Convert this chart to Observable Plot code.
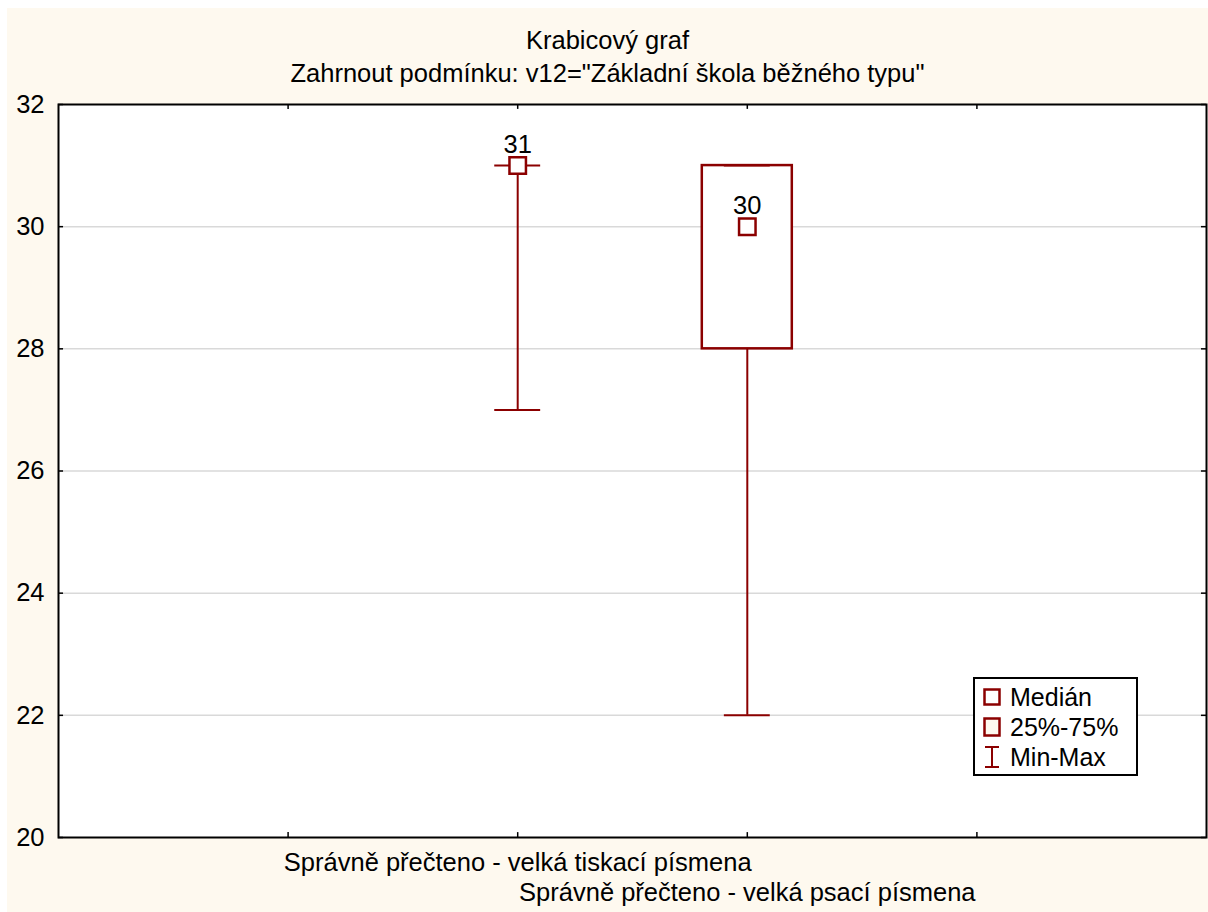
<!DOCTYPE html>
<html>
<head>
<meta charset="utf-8">
<script src="https://cdn.jsdelivr.net/npm/d3@7"></script>
<script src="https://cdn.jsdelivr.net/npm/@observablehq/plot@0.6"></script>
<style>
  html, body { margin: 0; padding: 0; background: #ffffff; }
  body { width: 1208px; height: 912px; position: relative; overflow: hidden; font-family: "Liberation Sans", Arial, sans-serif; }
  #bg { position: absolute; left: 7px; top: 8px; width: 1201px; height: 904px; background: #FEF9EF; }
  .title { position: absolute; left: 7px; width: 1201px; text-align: center; font-size: 25.5px; line-height: 30px; color: #000; }
  #chart { position: absolute; left: 7px; top: 84px; }
  #legend { position: absolute; left: 973px; top: 677px; width: 165px; height: 99px; box-sizing: border-box; border: 2px solid #000; background: #fff; font-size: 25px; }
  .row { position: absolute; left: 0; height: 30px; display: flex; align-items: center; line-height: 30px; }
  .row svg { margin-left: 8px; margin-right: 9px; flex: none; }
</style>
</head>
<body>
<div id="bg"></div>
<div class="title" id="t1" style="top:25px"></div>
<div class="title" id="t2" style="top:58px"></div>
<div id="chart"></div>
<div id="legend"></div>
<script>
const titleText = "Krabicový graf";
const subtitleText = "Zahrnout podmínku: v12=\"Základní škola běžného typu\"";
const categories = ["Správně přečteno - velká tiskací písmena", "Správně přečteno - velká psací písmena"];
const positions = [2, 3];
const minValues = [27, 22];
const maxValues = [31, 31];
const q1Values = [31, 28];
const q3Values = [31, 31];
const medianValues = [31, 30];
const xTicks = [1, 2, 3, 4];
const yTicks = [20, 22, 24, 26, 28, 30, 32];
const gridValues = [22, 24, 26, 28, 30];
const legendLabels = ["Medián", "25%-75%", "Min-Max"];

const RED = "#8B0000";
const CAP = 0.1;   // half cap width (x units)
const BOX = 0.196; // half box width (x units)
const TK = 0.022;  // inward tick length (x units)
const TKY = 0.08;  // inward tick length (y units)
const FS = 25.5;

document.getElementById("t1").textContent = titleText;
document.getElementById("t2").textContent = subtitleText;

const data = categories.map((c, i) => ({
  cat: c, x: positions[i], min: minValues[i], max: maxValues[i],
  q1: q1Values[i], q3: q3Values[i], med: medianValues[i], row: i
}));

const chart = Plot.plot({
  width: 1201,
  height: 828,
  marginLeft: 51,
  marginRight: 2,
  marginTop: 20,
  marginBottom: 75,
  style: { background: "transparent", fontFamily: "Liberation Sans, Arial, sans-serif", fontSize: FS + "px", color: "#000" },
  x: { domain: [0, 5], axis: null },
  y: { domain: [20, 32], axis: null },
  marks: [
    Plot.frame({ fill: "white" }),
    Plot.ruleY(gridValues, { stroke: "#d9d9d9", strokeWidth: 1.5 }),
    // inward ticks
    Plot.ruleX(xTicks, { y1: 20, y2: 20 + TKY, stroke: "#000", strokeWidth: 1.5 }),
    Plot.ruleX(xTicks, { y1: 32, y2: 32 - TKY, stroke: "#000", strokeWidth: 1.5 }),
    Plot.ruleY(yTicks, { x1: 0, x2: TK, stroke: "#000", strokeWidth: 1.5 }),
    Plot.ruleY(yTicks, { x1: 5, x2: 5 - TK, stroke: "#000", strokeWidth: 1.5 }),
    // y tick labels
    Plot.text(yTicks, { x: 0, y: d => d, text: d => String(d), textAnchor: "end", dx: -14, fontSize: FS, fill: "#000" }),
    // x category labels (staggered)
    Plot.text(data, { x: "x", text: "cat", frameAnchor: "bottom", lineAnchor: "middle", fontSize: FS, fill: "#000",
      filter: d => d.row === 0, dy: 25 }),
    Plot.text(data, { x: "x", text: "cat", frameAnchor: "bottom", lineAnchor: "middle", fontSize: FS, fill: "#000",
      filter: d => d.row === 1, dy: 55 }),
    // whiskers
    Plot.ruleX(data, { x: "x", y1: "min", y2: "max", stroke: RED, strokeWidth: 2 }),
    // boxes
    Plot.rect(data.filter(d => d.q3 > d.q1), { x1: d => d.x - BOX, x2: d => d.x + BOX, y1: "q1", y2: "q3", fill: "white", stroke: RED, strokeWidth: 2.5 }),
    // caps
    Plot.ruleY(data, { y: "min", x1: d => d.x - CAP, x2: d => d.x + CAP, stroke: RED, strokeWidth: 2 }),
    Plot.ruleY(data, { y: "max", x1: d => d.x - CAP, x2: d => d.x + CAP, stroke: RED, strokeWidth: 2 }),
    // medians
    Plot.dot(data, { x: "x", y: "med", symbol: "square", r: 9.3, fill: "white", stroke: RED, strokeWidth: 2.5 }),
    Plot.text(data, { x: "x", y: "med", text: d => String(d.med), dy: -21, fontSize: FS, fill: "#000" }),
    Plot.frame({ stroke: "#000", strokeWidth: 2 })
  ]
});
document.getElementById("chart").appendChild(chart);

// legend
const legend = document.getElementById("legend");
const icons = [
  `<svg width="18" height="18"><rect x="1.5" y="1.5" width="15" height="15" fill="white" stroke="${RED}" stroke-width="2.5"/></svg>`,
  `<svg width="18" height="20"><rect x="1.5" y="1.5" width="15" height="17" fill="#FEF9EF" stroke="${RED}" stroke-width="2.5"/></svg>`,
  `<svg width="18" height="24"><path d="M2,2H16M9,2V22M2,22H16" fill="none" stroke="${RED}" stroke-width="2"/></svg>`
];
legendLabels.forEach((lab, i) => {
  const row = document.createElement("div");
  row.className = "row";
  row.style.top = (3 + i * 30) + "px";
  row.innerHTML = icons[i];
  const span = document.createElement("span");
  span.textContent = lab;
  row.appendChild(span);
  legend.appendChild(row);
});
</script>
</body>
</html>
